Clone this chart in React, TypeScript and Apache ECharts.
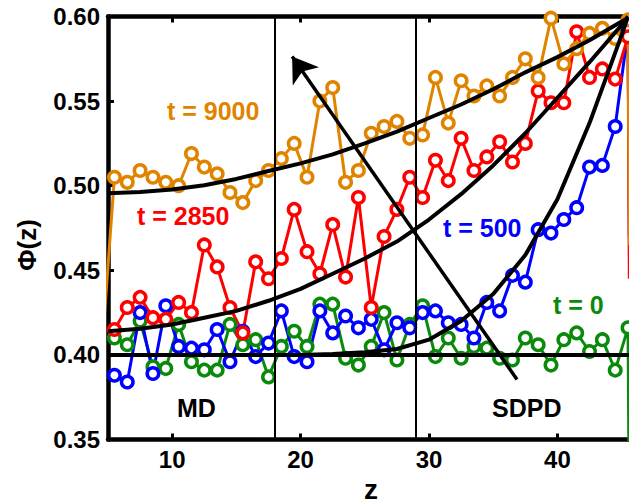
import React, { useEffect, useRef } from "react";
import * as echarts from "echarts";

// z positions of the sampled bins
const zBins = [
  5.5, 6.5, 7.5, 8.5, 9.5, 10.5, 11.5, 12.5, 13.5, 14.5,
  15.5, 16.5, 17.5, 18.5, 19.5, 20.5, 21.5, 22.5, 23.5, 24.5,
  25.5, 26.5, 27.5, 28.5, 29.5, 30.5, 31.5, 32.5, 33.5, 34.5,
  35.5, 36.5, 37.5, 38.5, 39.5, 40.5, 41.5, 42.5, 43.5, 44.5, 45.5,
];

// measured profiles Φ(z) at each time
const phiT0 = [
  0.410, 0.406, 0.420, 0.393, 0.392, 0.418, 0.396, 0.391, 0.391, 0.418,
  0.406, 0.409, 0.387, 0.405, 0.414, 0.405, 0.430, 0.430, 0.398, 0.394,
  0.405, 0.425, 0.397, 0.418, 0.429, 0.399, 0.410, 0.398, 0.405, 0.404,
  0.398, 0.397, 0.410, 0.406, 0.394, 0.409, 0.413, 0.402, 0.409, 0.391, 0.416,
];
const phiT500 = [
  0.388, 0.384, 0.425, 0.389, 0.429, 0.405, 0.404, 0.403, 0.415, 0.396,
  0.414, 0.399, 0.407, 0.426, 0.399, 0.396, 0.426, 0.413, 0.423, 0.416,
  0.421, 0.403, 0.419, 0.416, 0.425, 0.426, 0.419, 0.418, 0.410, 0.431,
  0.426, 0.447, 0.443, 0.474, 0.472, 0.480, 0.487, 0.511, 0.512, 0.535, 0.592,
];
const phiT2850 = [
  0.415, 0.428, 0.434, 0.422, 0.421, 0.431, 0.425, 0.465, 0.452, 0.428,
  0.413, 0.455, 0.445, 0.457, 0.486, 0.461, 0.448, 0.477, 0.446, 0.493,
  0.428, 0.470, 0.486, 0.505, 0.493, 0.515, 0.503, 0.528, 0.509, 0.517,
  0.526, 0.514, 0.525, 0.556, 0.549, 0.549, 0.591, 0.564, 0.569, 0.563, 0.588,
];
const phiT9000 = [
  0.505, 0.502, 0.509, 0.505, 0.502, 0.500, 0.519, 0.511, 0.507, 0.496,
  0.490, 0.503, 0.509, 0.516, 0.525, 0.505, 0.550, 0.558, 0.502, 0.509,
  0.531, 0.535, 0.538, 0.528, 0.530, 0.564, 0.537, 0.562, 0.553, 0.559,
  0.553, 0.564, 0.575, 0.564, 0.599, 0.572, 0.581, 0.590, 0.593, 0.587, 0.598,
];

// values just beyond the wall (t = 0, 500, 2850, 9000)
const wallZ = 45.6;
const wallPhi = [0.3, 0.47, 0.445, 0.465];
// bin left of the window for the t = 9000 trace
const leftZ = 4.5;
const leftPhi9000 = 0.4;

// continuum predictions
const fitZ0 = [5, 47];
const fitPhi0 = [0.4, 0.4];
const fitZ = [5, 7.5, 10, 12.5, 15, 17.5, 20, 22.5, 25, 27.5, 30, 32.5, 35, 37.5, 40, 42.5, 45, 45.5];
const fitPhi500 = [
  0.4, 0.4, 0.4, 0.4, 0.4, 0.4, 0.4, 0.4005, 0.4015, 0.4035,
  0.409, 0.42, 0.436, 0.459, 0.492, 0.537, 0.589, 0.6,
];
const fitPhi2850 = [
  0.414, 0.4155, 0.418, 0.422, 0.426, 0.432, 0.439, 0.448, 0.457, 0.467,
  0.48, 0.495, 0.512, 0.531, 0.552, 0.573, 0.595, 0.6,
];
const fitPhi9000 = [
  0.4955, 0.4963, 0.4977, 0.5003, 0.504, 0.5087, 0.5132, 0.5185, 0.525, 0.532,
  0.54, 0.548, 0.557, 0.567, 0.576, 0.586, 0.597, 0.599,
];

const xTicks = [10, 20, 30, 40];
const regionBounds = [18, 29];
const timeArrow = { from: [36.85, 0.3855], to: [19.34, 0.5763] };

const FONT = "Liberation Sans, Arial, Helvetica, sans-serif";
const ORANGE = "#e08400";
const RED = "#ff0000";
const BLUE = "#0000ff";
const GREEN = "#0a8a0a";

function pairs(zs: number[], vs: number[]) {
  return zs.map((z, i) => [z, vs[i]]);
}

function profile(name: string, color: string, vs: number[], wall: number, left?: number) {
  const data: any[] = [];
  if (left !== undefined) data.push({ value: [leftZ, left], symbol: "none" });
  zBins.forEach((z, i) => data.push([z, vs[i]]));
  data.push({ value: [wallZ, wall], symbol: "none" });
  return {
    name,
    type: "line",
    data,
    color,
    symbol: "circle",
    symbolSize: 11.5,
    itemStyle: { color: "#ffffff", borderColor: color, borderWidth: 3.5 },
    lineStyle: { color, width: 3 },
    z: 2,
  };
}

function fit(name: string, zs: number[], vs: number[], extra: any = {}) {
  return {
    name,
    type: "line",
    data: pairs(zs, vs),
    showSymbol: false,
    color: "#000",
    lineStyle: { color: "#000", width: 4 },
    z: 3,
    ...extra,
  };
}

function label(text: string, x: number, y: number, color: string, size = 25) {
  return {
    type: "text",
    x,
    y,
    z: 10,
    style: {
      text,
      fill: color,
      font: `bold ${size}px ${FONT}`,
      align: "left",
      verticalAlign: "middle",
    },
  };
}

export default function App() {
  const ref = useRef<HTMLDivElement>(null);

  useEffect(() => {
    if (!ref.current) return;
    const chart = echarts.init(ref.current, undefined, { renderer: "svg" });
    const axisText = { color: "#000", fontSize: 24, fontWeight: "bold", fontFamily: FONT };
    chart.setOption({
      animation: false,
      backgroundColor: "#ffffff",
      grid: {
        left: 108,
        top: 16.5,
        width: 539.3,
        height: 423,
        outerBoundsMode: "none",
        containLabel: false,
      },
      xAxis: [
        {
          type: "value",
          min: 5,
          max: 47,
          position: "bottom",
          axisLine: { lineStyle: { color: "#000", width: 4.5 } },
          axisTick: { inside: true, length: 6, lineStyle: { color: "#000", width: 3 }, customValues: xTicks },
          axisLabel: { ...axisText, margin: 8, customValues: xTicks },
          splitLine: { show: false },
        },
        {
          type: "value",
          min: 5,
          max: 47,
          position: "top",
          axisLine: { lineStyle: { color: "#000", width: 4.5 } },
          axisTick: { inside: true, length: 6, lineStyle: { color: "#000", width: 3 }, customValues: xTicks },
          axisLabel: { show: false },
          splitLine: { show: false },
        },
      ],
      yAxis: {
        type: "value",
        min: 0.35,
        max: 0.6,
        interval: 0.05,
        axisLine: { lineStyle: { color: "#000", width: 4.5 } },
        axisTick: { inside: true, length: 6, lineStyle: { color: "#000", width: 3 } },
        axisLabel: { ...axisText, margin: 8, formatter: (v: number) => v.toFixed(2) },
        splitLine: { show: false },
      },
      series: [
        profile("t = 0", GREEN, phiT0, wallPhi[0]),
        profile("t = 500", BLUE, phiT500, wallPhi[1]),
        profile("t = 2850", RED, phiT2850, wallPhi[2]),
        profile("t = 9000", ORANGE, phiT9000, wallPhi[3], leftPhi9000),
        fit("fit 0", fitZ0, fitPhi0, {
          markLine: {
            silent: true,
            symbol: "none",
            label: { show: false },
            lineStyle: { color: "#000", width: 2, type: "solid" },
            data: regionBounds.map((z) => ({ xAxis: z })),
          },
        }),
        fit("fit 500", fitZ, fitPhi500, {
          markLine: {
            silent: true,
            symbol: ["none", "arrow"],
            symbolSize: 24,
            itemStyle: { color: "#000" },
            label: { show: false },
            lineStyle: { color: "#000", width: 3.5, type: "solid" },
            data: [[{ coord: timeArrow.from }, { coord: timeArrow.to }]],
          },
        }),
        fit("fit 2850", fitZ, fitPhi2850),
        fit("fit 9000", fitZ, fitPhi9000),
      ],
      graphic: [
        label("t = 9000", 167, 111, ORANGE),
        label("t = 2850", 137, 216, RED),
        label("t = 500", 443, 228, BLUE),
        label("t = 0", 553, 305, GREEN),
        label("MD", 177, 408, "#000"),
        label("SDPD", 492, 408, "#000"),
        {
          type: "text",
          x: 371,
          y: 503,
          style: { text: "z", fill: "#000", font: `bold 28px ${FONT}`, align: "center", verticalAlign: "bottom" },
        },
        {
          type: "text",
          x: 27,
          y: 245,
          rotation: Math.PI / 2,
          style: { text: "Φ(z)", fill: "#000", font: `bold 26px ${FONT}`, align: "center", verticalAlign: "middle" },
        },
      ],
    });
    return () => chart.dispose();
  }, []);

  return (
    <div
      ref={ref}
      style={{ position: "fixed", left: 0, top: 0, width: 629, height: 504, background: "#fff" }}
    />
  );
}
